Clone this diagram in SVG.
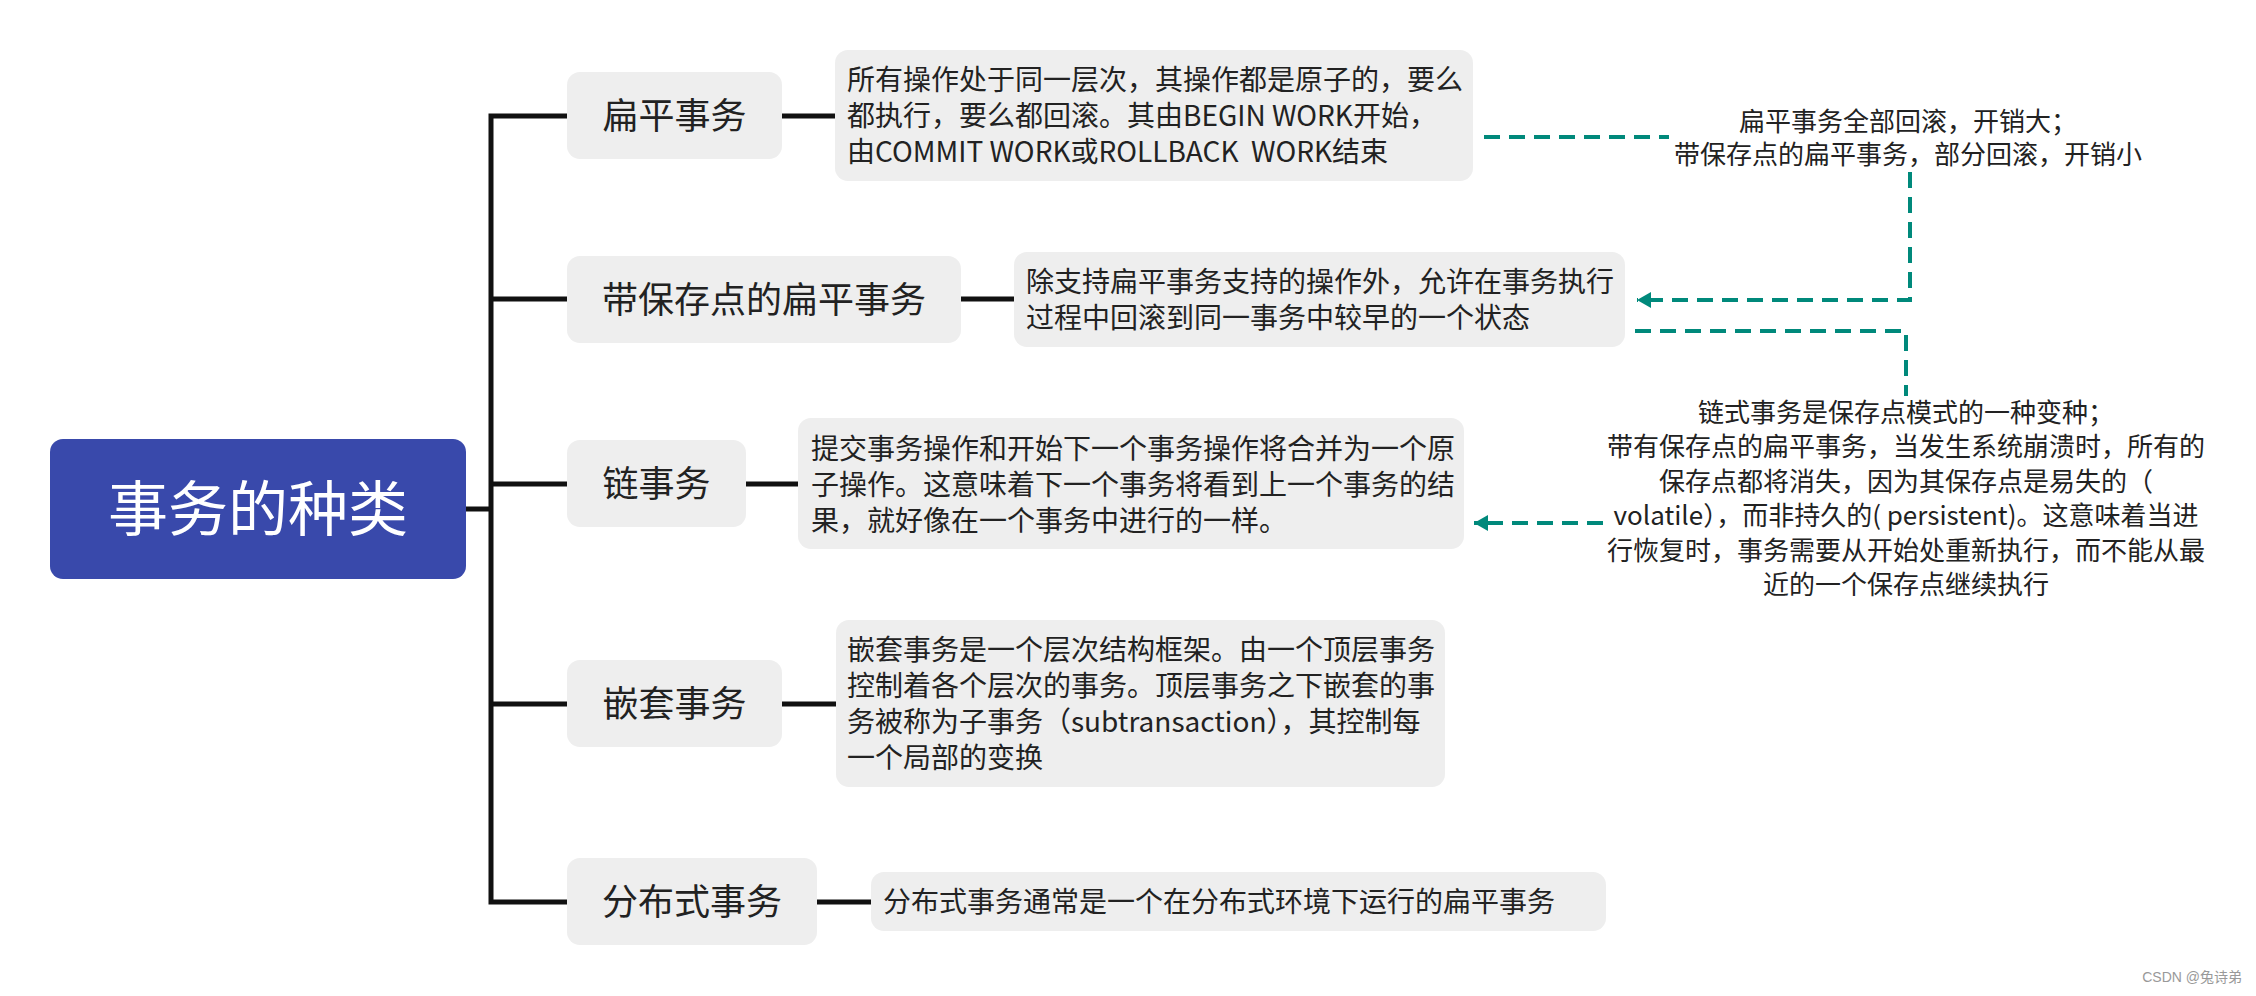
<svg xmlns="http://www.w3.org/2000/svg" width="2256" height="996" viewBox="0 0 2256 996">
<style>
text{font-family:"Noto Sans CJK SC","Noto Sans",sans-serif;fill:#222}
.topic{fill:#eeeeee}
.tl{font-size:36px;text-anchor:middle}
.desc{font-size:28px;white-space:pre}
.lbl{font-size:26px;text-anchor:middle}
.tree{fill:none;stroke:#111;stroke-width:5}
.dash{fill:none;stroke:#00897b;stroke-width:4;stroke-dasharray:16 9}
</style>
<defs>
<marker id="arr" markerUnits="userSpaceOnUse" markerWidth="15" markerHeight="16" refX="14" refY="8" orient="auto">
<path d="M0,0 L14,8 L0,16 z" fill="#00897b"/>
</marker>
</defs>
<rect width="2256" height="996" fill="#ffffff"/>
<g id="connectors">
<path class="tree" d="M466,509 H491"/>
<path class="tree" d="M567,116 H491 V902 H567"/>
<path class="tree" d="M491,299 H567 M491,484 H567 M491,704 H567"/>
<path class="tree" d="M782,116 H835 M961,299 H1014 M746,484 H798 M782,704 H836 M817,902 H871"/>
<path class="dash" d="M1484,137 H1669"/>
<path class="dash" d="M1910,172 V300 H1637" marker-end="url(#arr)"/>
<path class="dash" d="M1635,331 H1906 V396"/>
<path class="dash" d="M1603,523 H1474" marker-end="url(#arr)"/>
</g>
<g id="root">
<rect x="50" y="439" width="416" height="140" rx="13" fill="#3949ab"/>
<text x="258" y="531" style="font-size:60px;fill:#ffffff;text-anchor:middle">事务的种类</text>
</g>
<g id="flat">
<rect class="topic" x="567" y="72" width="215" height="87" rx="13"/>
<text class="tl" x="674.5" y="129">扁平事务</text>
</g>
<g id="flat-desc">
<rect class="topic" x="835" y="50" width="638" height="131" rx="13"/>
<text class="desc"><tspan x="847" y="89.5">所有操作处于同一层次，其操作都是原子的，要么</tspan><tspan x="847" y="125.5">都执行，要么都回滚。其由BEGIN WORK开始，</tspan><tspan x="847" y="161.5">由COMMIT WORK或ROLLBACK  WORK结束</tspan></text>
</g>
<g id="savepoint">
<rect class="topic" x="567" y="256" width="394" height="87" rx="13"/>
<text class="tl" x="764" y="313">带保存点的扁平事务</text>
</g>
<g id="savepoint-desc">
<rect class="topic" x="1014" y="252" width="611" height="95" rx="13"/>
<text class="desc"><tspan x="1026" y="291.5">除支持扁平事务支持的操作外，允许在事务执行</tspan><tspan x="1026" y="327.5">过程中回滚到同一事务中较早的一个状态</tspan></text>
</g>
<g id="chain">
<rect class="topic" x="567" y="440" width="179" height="87" rx="13"/>
<text class="tl" x="656.5" y="497">链事务</text>
</g>
<g id="chain-desc">
<rect class="topic" x="798" y="418" width="666" height="131" rx="13"/>
<text class="desc"><tspan x="811" y="458.5">提交事务操作和开始下一个事务操作将合并为一个原</tspan><tspan x="811" y="494.5">子操作。这意味着下一个事务将看到上一个事务的结</tspan><tspan x="811" y="530.5">果，就好像在一个事务中进行的一样。</tspan></text>
</g>
<g id="nested">
<rect class="topic" x="567" y="660" width="215" height="87" rx="13"/>
<text class="tl" x="674.5" y="717">嵌套事务</text>
</g>
<g id="nested-desc">
<rect class="topic" x="836" y="620" width="609" height="167" rx="13"/>
<text class="desc"><tspan x="847" y="660">嵌套事务是一个层次结构框架。由一个顶层事务</tspan><tspan x="847" y="696">控制着各个层次的事务。顶层事务之下嵌套的事</tspan><tspan x="847" y="732">务被称为子事务（subtransaction），其控制每</tspan><tspan x="847" y="768">一个局部的变换</tspan></text>
</g>
<g id="distributed">
<rect class="topic" x="567" y="858" width="250" height="87" rx="13"/>
<text class="tl" x="692" y="915">分布式事务</text>
</g>
<g id="distributed-desc">
<rect class="topic" x="871" y="872" width="735" height="59" rx="13"/>
<text class="desc" x="883" y="912">分布式事务通常是一个在分布式环境下运行的扁平事务</text>
</g>
<g id="note-cost">
<text class="lbl"><tspan x="1908" y="131">扁平事务全部回滚，开销大；</tspan><tspan x="1908" y="164">带保存点的扁平事务，部分回滚，开销小</tspan></text>
</g>
<g id="note-chain">
<text class="lbl"><tspan x="1906" y="422">链式事务是保存点模式的一种变种；</tspan><tspan x="1906" y="456">带有保存点的扁平事务，当发生系统崩溃时，所有的</tspan><tspan x="1906" y="491">保存点都将消失，因为其保存点是易失的（</tspan><tspan x="1906" y="525">volatile），而非持久的( persistent)。这意味着当进</tspan><tspan x="1906" y="560">行恢复时，事务需要从开始处重新执行，而不能从最</tspan><tspan x="1906" y="594">近的一个保存点继续执行</tspan></text>
</g>
<text x="2242" y="982" style="font-size:14px;fill:#999999;text-anchor:end;font-family:'Liberation Sans','Noto Sans CJK SC',sans-serif">CSDN @兔诗弟</text>
</svg>
